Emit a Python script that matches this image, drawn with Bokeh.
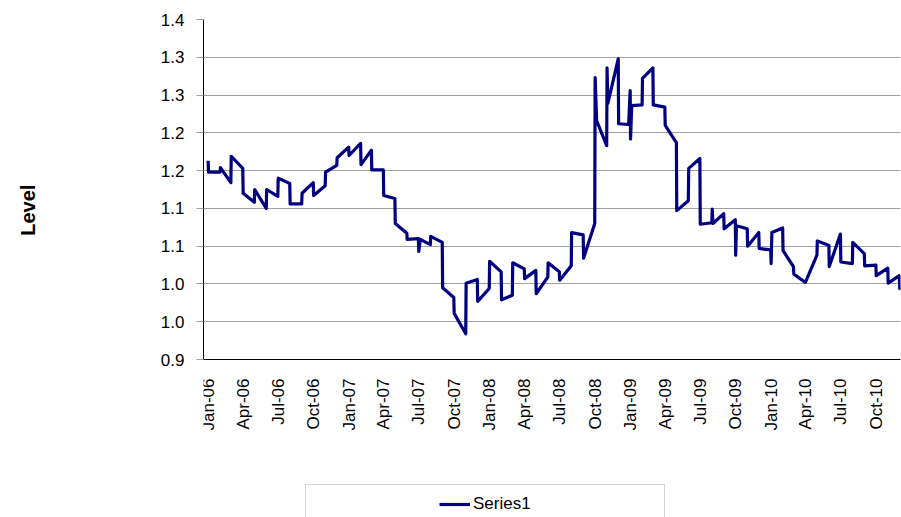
import pandas as pd
from math import pi
from bokeh.plotting import figure
from bokeh.models import (Range1d, FixedTicker, CustomJSTickFormatter, Legend,
                          LegendItem, Span, ColumnDataSource)
from bokeh.core.properties import value
from bokeh.embed import file_html
from bokeh.resources import INLINE

# ---------------- data ----------------
dates = [
    "2005-12-31",
    "2006-01-01", "2006-01-31", "2006-02-01", "2006-02-28", "2006-03-01", "2006-03-31",
    "2006-04-01", "2006-04-30", "2006-05-01", "2006-05-31", "2006-06-01", "2006-06-30",
    "2006-07-01", "2006-07-31", "2006-08-01", "2006-08-31", "2006-09-01", "2006-09-30",
    "2006-10-01", "2006-10-31", "2006-11-01", "2006-11-30", "2006-12-01", "2006-12-31",
    "2007-01-01", "2007-01-31", "2007-02-01", "2007-02-28", "2007-03-01", "2007-03-31",
    "2007-04-01", "2007-04-30", "2007-05-01", "2007-05-31", "2007-06-01", "2007-06-30",
    "2007-07-01", "2007-07-05", "2007-07-31", "2007-08-01", "2007-08-31",
    "2007-09-01", "2007-09-30", "2007-10-01", "2007-10-31", "2007-11-01", "2007-11-30",
    "2007-12-01", "2007-12-31",
    "2008-01-01", "2008-01-31", "2008-02-01", "2008-02-29", "2008-03-01", "2008-03-31",
    "2008-04-01", "2008-04-30", "2008-05-01", "2008-05-31", "2008-06-01", "2008-06-30",
    "2008-07-01", "2008-07-31", "2008-08-01", "2008-08-31", "2008-09-01", "2008-09-30",
    "2008-10-01", "2008-10-05", "2008-10-31", "2008-11-01", "2008-11-03", "2008-11-30",
    "2008-12-01", "2008-12-27", "2008-12-31",
    "2009-01-01", "2009-01-04", "2009-01-31", "2009-02-01", "2009-02-28",
    "2009-03-01", "2009-03-31", "2009-04-01", "2009-04-30", "2009-05-01", "2009-05-31",
    "2009-06-01", "2009-06-30", "2009-07-01", "2009-07-31",
    "2009-08-01", "2009-08-03", "2009-08-31", "2009-09-01", "2009-09-30",
    "2009-10-01", "2009-10-03", "2009-10-31", "2009-11-01", "2009-11-30",
    "2009-12-01", "2009-12-31",
    "2010-01-01", "2010-01-03", "2010-01-31", "2010-02-01", "2010-02-28",
    "2010-03-01", "2010-03-31", "2010-04-30", "2010-05-01", "2010-05-31",
    "2010-06-01", "2010-06-30", "2010-07-01", "2010-07-31", "2010-08-01", "2010-08-31",
    "2010-09-01", "2010-09-30", "2010-10-01", "2010-10-31", "2010-11-01", "2010-11-30",
    "2010-12-01", "2010-12-31",
]
levels = [
    1.163,
    1.148, 1.148, 1.154, 1.134, 1.169, 1.153,
    1.120, 1.108, 1.125, 1.100, 1.125, 1.116,
    1.140, 1.133, 1.106, 1.106, 1.120, 1.134,
    1.117, 1.130, 1.148, 1.157, 1.167, 1.181,
    1.170, 1.186, 1.158, 1.177, 1.151, 1.151,
    1.117, 1.113, 1.080, 1.067, 1.059, 1.060,
    1.043, 1.059, 1.052, 1.063, 1.055,
    0.995, 0.982, 0.961, 0.934, 1.001, 1.006,
    0.977, 0.994,
    1.030, 1.016, 0.979, 0.985, 1.028, 1.020,
    1.007, 1.018, 0.987, 1.009, 1.028, 1.016,
    1.005, 1.024, 1.068, 1.065, 1.034, 1.080,
    1.273, 1.216, 1.183, 1.286, 1.239, 1.298,
    1.212, 1.211, 1.256,
    1.192, 1.236, 1.237, 1.272, 1.286,
    1.237, 1.234, 1.210, 1.187, 1.097, 1.110,
    1.153, 1.166, 1.079, 1.081,
    1.099, 1.080, 1.093, 1.073, 1.085,
    1.038, 1.077, 1.073, 1.050, 1.068,
    1.047, 1.045,
    1.027, 1.068, 1.074, 1.044, 1.023,
    1.013, 1.002, 1.038, 1.057, 1.051,
    1.023, 1.066, 1.029, 1.027, 1.055, 1.040,
    1.024, 1.025, 1.011, 1.021, 1.001, 1.011,
    0.994, 0.990,
]
series_name = "Series1"
y_axis_title = "Level"

y_ticks = [0.9, 0.95, 1.0, 1.05, 1.1, 1.15, 1.2, 1.25, 1.3, 1.35]
y_tick_labels = ["0.9", "1.0", "1.0", "1.1", "1.1", "1.2", "1.2", "1.3", "1.3", "1.4"]

x_tick_dates = [
    "2006-01-01", "2006-04-01", "2006-07-01", "2006-10-01",
    "2007-01-01", "2007-04-01", "2007-07-01", "2007-10-01",
    "2008-01-01", "2008-04-01", "2008-07-01", "2008-10-01",
    "2009-01-01", "2009-04-01", "2009-07-01", "2009-10-01",
    "2010-01-01", "2010-04-01", "2010-07-01", "2010-10-01",
]
x_tick_labels = [
    "Jan-06", "Apr-06", "Jul-06", "Oct-06",
    "Jan-07", "Apr-07", "Jul-07", "Oct-07",
    "Jan-08", "Apr-08", "Jul-08", "Oct-08",
    "Jan-09", "Apr-09", "Jul-09", "Oct-09",
    "Jan-10", "Apr-10", "Jul-10", "Oct-10",
]

# ---------------- styling ----------------
FONT = "Liberation Sans"
LINE_COLOR = "#000080"
GRID_COLOR = "#a0a0a0"
Y_MIN, Y_MAX = y_ticks[0], y_ticks[-1]

lookup_code = """
for (let i = 0; i < tick_vals.length; i++) {
  if (Math.abs(tick_vals[i] - tick) < 1e-6 * Math.max(1, Math.abs(tick))) return tick_names[i];
}
return "";
"""

src = ColumnDataSource(dict(date=pd.to_datetime(dates), level=levels))

# The frame reaches the page bottom so the legend (under the date labels)
# can live inside it; the value axis itself is bounded to 0.9 .. 1.35.
PLOT_PX = 340.0                     # height of the 0.9..1.35 band in px
BELOW_PX = 158.0                    # space under the axis for labels + legend
y_start = Y_MIN - BELOW_PX * (Y_MAX - Y_MIN) / PLOT_PX

p = figure(width=901, height=517, x_axis_type=None,
           x_range=Range1d(pd.Timestamp("2005-12-19"), pd.Timestamp("2010-12-03")),
           y_range=Range1d(y_start, Y_MAX),
           output_backend="svg", toolbar_location=None,
           min_border_left=203, min_border_right=1, min_border_top=19, min_border_bottom=0)
p.outline_line_color = None
p.background_fill_color = "white"
p.border_fill_color = "white"

# value axis
yt = FixedTicker(ticks=y_ticks)
ya = p.yaxis[0]
ya.ticker = yt
ya.bounds = (Y_MIN, Y_MAX)
ya.formatter = CustomJSTickFormatter(args=dict(tick_vals=y_ticks, tick_names=y_tick_labels),
                                     code=lookup_code)
ya.axis_line_color = "black"
ya.axis_line_width = 1
ya.major_label_text_font = FONT
ya.major_label_text_font_size = "17px"
ya.major_label_text_color = "black"
ya.minor_tick_line_color = None
ya.major_tick_line_color = GRID_COLOR
ya.major_tick_out = 7
ya.major_tick_in = 0
ya.major_label_standoff = 12
# axis title: leading no-break spaces lift the visible word to the middle of the 0.9-1.35 band
ya.axis_label = "\u00a0" * 21 + y_axis_title
ya.axis_label_text_font = FONT
ya.axis_label_text_font_size = "20px"
ya.axis_label_text_font_style = "bold"
ya.axis_label_text_color = "black"
ya.axis_label_standoff = 119

p.ygrid.ticker = yt
p.ygrid.grid_line_color = GRID_COLOR
p.ygrid.grid_line_width = 1

# date axis: baseline + vertical labels
p.add_layout(Span(location=Y_MIN, dimension="width", line_color="black", line_width=1))
tick_src = ColumnDataSource(dict(x=pd.to_datetime(x_tick_dates),
                                 y=[Y_MIN] * len(x_tick_dates),
                                 label=x_tick_labels))
p.text(x="x", y="y", text="label", source=tick_src, angle=pi / 2, y_offset=19,
       text_align="right", text_baseline="middle",
       text_font=value(FONT), text_font_size=value("17px"), text_color="black")

# data line
line_r = p.line("date", "level", source=src, line_color=LINE_COLOR, line_width=3.2,
                line_join="round")

# legend: one visible entry centred in a wide box, flanked by blank slots
blank_a = p.line(x=[], y=[], line_alpha=0)
blank_b = p.line(x=[], y=[], line_alpha=0)
leg = Legend(items=[LegendItem(label=" ", renderers=[blank_a]),
                    LegendItem(label=series_name, renderers=[line_r]),
                    LegendItem(label=" ", renderers=[blank_b])],
             orientation="horizontal", location=(102, -7),
             padding=9, spacing=32, margin=0,
             glyph_width=31, glyph_height=20, label_width=58, label_height=20, label_standoff=3,
             label_text_font=FONT, label_text_font_size="17px", label_text_color="black",
             border_line_color="#a6a6a6", border_line_width=1,
             background_fill_color="white", background_fill_alpha=1)
p.add_layout(leg)

open("out.html", "w").write(file_html(p, INLINE))
